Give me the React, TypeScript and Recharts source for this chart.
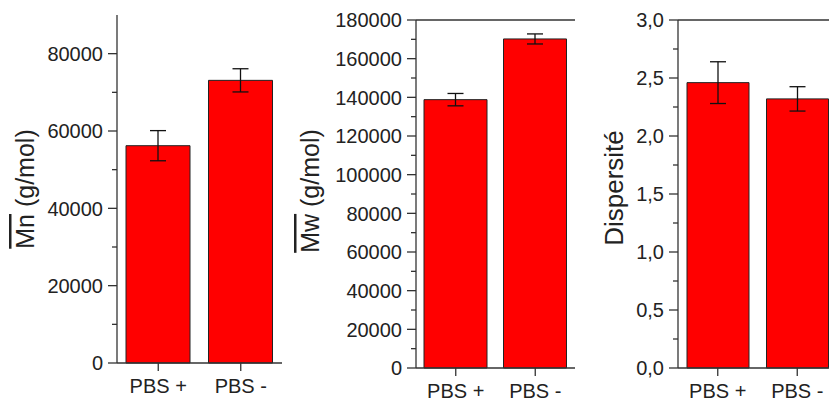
import React from 'react';
import { Bar, BarChart, ErrorBar, ReferenceLine, XAxis, YAxis } from 'recharts';

const categories = ['PBS +', 'PBS -'];

const mnValues = [56200, 73100];
const mnErrors = [3900, 3000];
const mwValues = [138800, 170200];
const mwErrors = [3200, 2600];
const dispValues = [2.46, 2.32];
const dispErrors = [0.18, 0.105];

const mnTicks = [0, 10000, 20000, 30000, 40000, 50000, 60000, 70000, 80000];
const mwTicks = [
  0, 10000, 20000, 30000, 40000, 50000, 60000, 70000, 80000, 90000, 100000,
  110000, 120000, 130000, 140000, 150000, 160000, 170000, 180000,
];
const dispTicks = [0, 0.25, 0.5, 0.75, 1, 1.25, 1.5, 1.75, 2, 2.25, 2.5, 2.75, 3];

const FONT = '"Liberation Sans", Arial, sans-serif';
const AXIS = '#333';
const TEXT = '#222';

const toRows = (values: number[], errors: number[]) =>
  categories.map((name, i) => ({ name, value: values[i], err: errors[i] }));

const isMajor = (v: number, step: number) =>
  Math.abs(v / step - Math.round(v / step)) < 1e-6;

// left axis tick: outward line, short for minor ticks, label on majors only
const LeftTick = (props: any) => {
  const { x, y, payload, step, fmt } = props;
  const major = isMajor(payload.value, step);
  return (
    <g>
      <line x1={x - (major ? 9 : 5)} x2={x} y1={y} y2={y} stroke={AXIS} strokeWidth={1.3} />
      {major && (
        <text x={x - 14} y={y} dy="0.36em" textAnchor="end" fill={TEXT} fontSize={20} fontFamily={FONT}>
          {fmt(payload.value)}
        </text>
      )}
    </g>
  );
};

// right axis tick: pointing into the plot
const RightTick = (props: any) => {
  const { x, y, payload, step } = props;
  const major = isMajor(payload.value, step);
  return <line x1={x - (major ? 9 : 5)} x2={x} y1={y} y2={y} stroke={AXIS} strokeWidth={1.3} />;
};

// axis title, rotated; the part in `over` gets an overline (mean mass notation)
const title = (x: number, cy: number, size: number, over: string, rest: string) => () => (
  <text
    x={x}
    y={cy}
    transform={`rotate(-90, ${x}, ${cy})`}
    textAnchor="middle"
    fill={TEXT}
    fontSize={size}
    fontFamily={FONT}
  >
    {over && <tspan style={{ textDecoration: 'overline' }}>{over}</tspan>}
    {rest}
  </text>
);

interface PanelProps {
  left: number;
  width: number;
  top: number;
  axisWidth: number;
  right: number;
  xHeight: number;
  barSize: number;
  rows: { name: string; value: number; err: number }[];
  ticks: number[];
  max: number;
  step: number;
  fmt: (v: number) => string;
  label: (props: any) => React.ReactElement;
  topLine: boolean;
}

const Panel = (p: PanelProps) => (
  <BarChart
    width={p.width}
    height={403}
    data={p.rows}
    margin={{ top: p.top, right: p.right, bottom: 0, left: 0 }}
    style={{ position: 'absolute', left: p.left, top: 0 }}
  >
    <XAxis
      dataKey="name"
      height={p.xHeight}
      tickSize={8}
      tickMargin={8}
      stroke={AXIS}
      tick={{ fill: TEXT, fontSize: 20, fontFamily: FONT }}
      tickLine={{ stroke: AXIS, strokeWidth: 1.3 }}
      axisLine={{ stroke: AXIS, strokeWidth: 1.3 }}
    />
    <YAxis
      yAxisId="l"
      width={p.axisWidth}
      domain={[0, p.max]}
      ticks={p.ticks}
      interval={0}
      tickSize={0}
      tickMargin={0}
      tickLine={false}
      axisLine={{ stroke: AXIS, strokeWidth: 1.3 }}
      tick={(t: any) => <LeftTick {...t} step={p.step} fmt={p.fmt} />}
      label={p.label}
    />
    <YAxis
      yAxisId="r"
      orientation="right"
      mirror
      width={0}
      domain={[0, p.max]}
      ticks={p.ticks}
      interval={0}
      tickSize={0}
      tickMargin={0}
      tickLine={false}
      axisLine={{ stroke: AXIS, strokeWidth: 1.3 }}
      tick={(t: any) => <RightTick {...t} step={p.step} />}
    />
    {p.topLine && <ReferenceLine yAxisId="l" y={p.max} stroke={AXIS} strokeWidth={1.3} />}
    <Bar yAxisId="l" dataKey="value" fill="#ff0000" stroke="#222" strokeWidth={1} barSize={p.barSize} isAnimationActive={false}>
      <ErrorBar dataKey="err" direction="y" width={8} stroke="#111" strokeWidth={1.3} />
    </Bar>
  </BarChart>
);

const intFmt = (v: number) => String(v);
const commaFmt = (v: number) => v.toFixed(1).replace('.', ',');

export default function App() {
  return (
    <div
      style={{
        position: 'absolute',
        left: 0,
        top: 0,
        width: 829,
        height: 403,
        overflow: 'hidden',
        background: '#fff',
      }}
    >
      <Panel
        left={0}
        width={300}
        top={15}
        axisWidth={117}
        right={18}
        xHeight={40}
        barSize={64}
        rows={toRows(mnValues, mnErrors)}
        ticks={mnTicks}
        max={90000}
        step={20000}
        fmt={intFmt}
        label={title(34, 189, 25, 'Mn', ' (g/mol)')}
        topLine={false}
      />
      <Panel
        left={280}
        width={310}
        top={20}
        axisWidth={136}
        right={15}
        xHeight={35}
        barSize={63}
        rows={toRows(mwValues, mwErrors)}
        ticks={mwTicks}
        max={180000}
        step={20000}
        fmt={intFmt}
        label={title(39, 191, 25, 'Mw', ' (g/mol)')}
        topLine={true}
      />
      <Panel
        left={560}
        width={290}
        top={20}
        axisWidth={118}
        right={13}
        xHeight={35}
        barSize={62}
        rows={toRows(dispValues, dispErrors)}
        ticks={dispTicks}
        max={3}
        step={0.5}
        fmt={commaFmt}
        label={title(63, 188, 26, '', 'Dispersité')}
        topLine={true}
      />
    </div>
  );
}
